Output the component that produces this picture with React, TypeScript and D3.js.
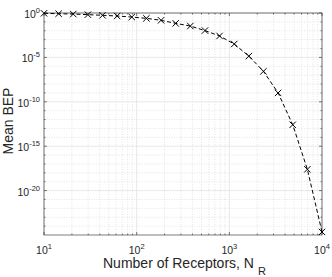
import * as d3 from "d3";

// receptors N_R (logspace 10..1e4, 20 pts) and the mean BEP
const receptors = [
  10, 14.38, 20.69, 29.76, 42.81, 61.58, 88.59, 127.4, 183.3, 263.7,
  379.3, 545.6, 784.8, 1129, 1624, 2336, 3360, 4833, 6952, 10000,
];
const meanBEP = [
  0.93, 0.83, 0.76, 0.65, 0.55, 0.46, 0.35, 0.25, 0.15, 0.068,
  0.034, 0.0105, 2.6e-3, 3.2e-4, 1.4e-5, 2.7e-7, 1.0e-9, 2.6e-13, 2.5e-18, 2.2e-25,
];
const xTickExp = [1, 2, 3, 4];
const yTickExp = [0, -5, -10, -15, -20];

const width = 332;
const height = 277;
const marginLeft = 44;
const marginRight = 10;
const marginTop = 13;
const marginBottom = 42;

const font = "'Liberation Sans', Arial, Helvetica, sans-serif";

export default function App() {
  const x = d3.scaleLog([10, 1e4], [marginLeft, width - marginRight]);
  const y = d3.scaleLog([1e-25, 1], [height - marginBottom, marginTop]);
  const line = d3.line<number>((d, i) => x(receptors[i]), (d) => y(d));

  const x0 = marginLeft;
  const x1 = width - marginRight;
  const y0 = height - marginBottom;
  const y1 = marginTop;

  // minor grid: 2..9 in each x decade, every y decade
  const xMinor: number[] = [];
  for (let e = 1; e < 4; e++) for (let m = 2; m <= 9; m++) xMinor.push(m * Math.pow(10, e));
  const yMinor: number[] = [];
  for (let e = -25; e <= 0; e++) if (e % 5 !== 0) yMinor.push(Math.pow(10, e));

  return (
    <svg width={width} height={height} style={{ position: "absolute", left: 0, top: 0, background: "#fff" }}>
      <rect x={0} y={0} width={width} height={height} fill="#fff" />
      {/* minor grid */}
      <g stroke="#d4d4d4" strokeWidth={0.6} strokeDasharray="1,1.5">
        {xMinor.map((v) => (
          <line key={"xm" + v} x1={x(v)} x2={x(v)} y1={y0} y2={y1} />
        ))}
        {yMinor.map((v) => (
          <line key={"ym" + v} x1={x0} x2={x1} y1={y(v)} y2={y(v)} />
        ))}
      </g>
      {/* major grid */}
      <g stroke="#e2e2e2" strokeWidth={0.8}>
        {xTickExp.map((e) => (
          <line key={"xg" + e} x1={x(Math.pow(10, e))} x2={x(Math.pow(10, e))} y1={y0} y2={y1} />
        ))}
        {yTickExp.map((e) => (
          <line key={"yg" + e} x1={x0} x2={x1} y1={y(Math.pow(10, e))} y2={y(Math.pow(10, e))} />
        ))}
      </g>
      {/* ticks inside */}
      <g stroke="#262626" strokeWidth={0.6}>
        {xMinor.map((v) => (
          <g key={"xt" + v}>
            <line x1={x(v)} x2={x(v)} y1={y0} y2={y0 - 1.5} />
            <line x1={x(v)} x2={x(v)} y1={y1} y2={y1 + 1.5} />
          </g>
        ))}
        {xTickExp.map((e) => (
          <g key={"xT" + e}>
            <line x1={x(Math.pow(10, e))} x2={x(Math.pow(10, e))} y1={y0} y2={y0 - 3} />
            <line x1={x(Math.pow(10, e))} x2={x(Math.pow(10, e))} y1={y1} y2={y1 + 3} />
          </g>
        ))}
        {yMinor.map((v) => (
          <g key={"yt" + v}>
            <line x1={x0} x2={x0 + 1.5} y1={y(v)} y2={y(v)} />
            <line x1={x1} x2={x1 - 1.5} y1={y(v)} y2={y(v)} />
          </g>
        ))}
        {yTickExp.map((e) => (
          <g key={"yT" + e}>
            <line x1={x0} x2={x0 + 3} y1={y(Math.pow(10, e))} y2={y(Math.pow(10, e))} />
            <line x1={x1} x2={x1 - 3} y1={y(Math.pow(10, e))} y2={y(Math.pow(10, e))} />
          </g>
        ))}
      </g>
      <rect x={x0} y={y1} width={x1 - x0} height={y0 - y1} fill="none" stroke="#262626" strokeWidth={0.6} />
      {/* data */}
      <path d={line(meanBEP) || ""} fill="none" stroke="#000" strokeWidth={1} strokeDasharray="4,2.5" />
      <g stroke="#000" strokeWidth={1}>
        {meanBEP.map((v, i) => {
          const cx = x(receptors[i]);
          const cy = y(v);
          const s = 3.2;
          return (
            <g key={"m" + i}>
              <line x1={cx - s} x2={cx + s} y1={cy - s} y2={cy + s} />
              <line x1={cx - s} x2={cx + s} y1={cy + s} y2={cy - s} />
            </g>
          );
        })}
      </g>
      {/* tick labels */}
      <g fontFamily={font} fill="#262626" fontSize={10.5}>
        {xTickExp.map((e) => (
          <text key={"xl" + e} x={x(Math.pow(10, e))} y={y0 + 18.5} textAnchor="middle">
            10<tspan fontSize={7.5} dy={-5}>{e}</tspan>
          </text>
        ))}
        {yTickExp.map((e) => (
          <text key={"yl" + e} x={x0 - 4} y={y(Math.pow(10, e)) + 5} textAnchor="end">
            10<tspan fontSize={7.5} dy={-5}>{e}</tspan>
          </text>
        ))}
      </g>
      <text x={103} y={268} fontFamily={font} fontSize={14} fill="#262626">
        Number of Receptors, N<tspan fontSize={11} dx={4} dy={7}>R</tspan>
      </text>
      <text
        transform={`translate(13,${121}) rotate(-90)`}
        textAnchor="middle"
        fontFamily={font}
        fontSize={14}
        fill="#262626"
      >
        Mean BEP
      </text>
    </svg>
  );
}
